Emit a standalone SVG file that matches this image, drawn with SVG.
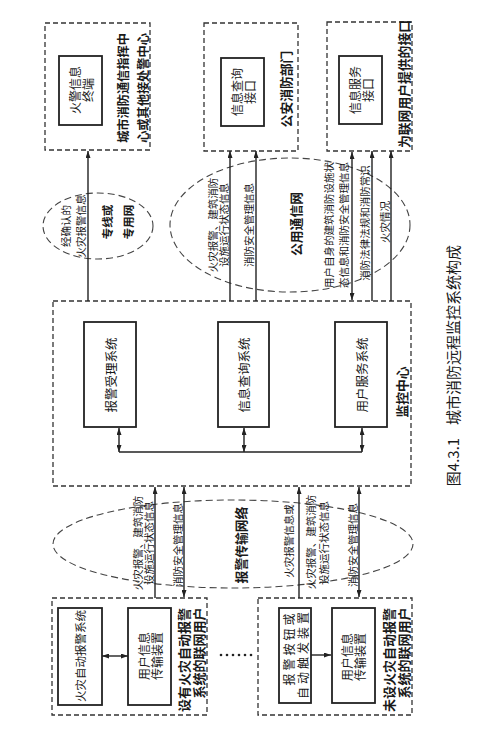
<svg xmlns="http://www.w3.org/2000/svg" width="483" height="740" viewBox="0 0 483 740">
<style>
.dbox{fill:none;stroke:#333;stroke-width:1.3;stroke-dasharray:5 3}
.sbox{fill:#fff;stroke:#222;stroke-width:1.8}
.ell{fill:none;stroke:#444;stroke-width:1.1;stroke-dasharray:7 4}
.ln{fill:none;stroke:#222;stroke-width:1.4}
.t{font-family:"Noto Sans CJK SC","Noto Sans",sans-serif;fill:#1a1a1a;text-anchor:middle;dominant-baseline:central}
.s{font-size:10.5px}
.m{font-size:12px}
.b{font-size:12.8px;font-weight:bold}
.c{font-size:15px}
</style>
<defs>
<marker id="ah" viewBox="0 0 7 5" refX="7" refY="2.5" markerWidth="7" markerHeight="5" markerUnits="userSpaceOnUse" orient="auto-start-reverse"><path d="M0,0 L7,2.5 L0,5 z" fill="#222"/></marker>
</defs>
<rect width="483" height="740" fill="#fff"/>

<g id="private-net">
<ellipse class="ell" cx="98" cy="226" rx="55" ry="33"/>
<text class="t b" style="font-size:11.5px" transform="translate(107 222) rotate(-90)">专线或</text>
<text class="t b" style="font-size:11.5px" transform="translate(128 222) rotate(-90)">专用网</text>
</g>

<g id="public-net">
<ellipse class="ell" cx="290" cy="225" rx="120" ry="67"/>
<text class="t b" transform="translate(295 224) rotate(-90)">公用通信网</text>
</g>

<g id="alarm-net">
<ellipse class="ell" cx="233" cy="544" rx="180" ry="44"/>
<text class="t b" transform="translate(240 545) rotate(-90)">报警传输网络</text>
</g>

<g id="fire-command">
<rect class="dbox" x="45" y="23" width="105" height="127"/>
<rect class="sbox" x="59" y="56" width="43" height="69"/>
<text class="t m" transform="translate(74 90) rotate(-90)">火警信息</text>
<text class="t m" transform="translate(87 90) rotate(-90)">终端</text>
<text class="t b" style="font-size:12.2px" transform="translate(123 88) rotate(-90)">城市消防通信指挥中</text>
<text class="t b" style="font-size:12.2px" transform="translate(143 88) rotate(-90)">心或其他接处警中心</text>
</g>

<g id="fire-dept">
<rect class="dbox" x="204" y="23" width="94" height="128"/>
<rect class="sbox" x="221" y="58" width="43" height="68"/>
<text class="t m" transform="translate(236 92) rotate(-90)">信息查询</text>
<text class="t m" transform="translate(249 92) rotate(-90)">接口</text>
<text class="t b" transform="translate(285 89) rotate(-90)">公安消防部门</text>
</g>

<g id="user-interface">
<rect class="dbox" x="327" y="22" width="85" height="129"/>
<rect class="sbox" x="339" y="56" width="43" height="68"/>
<text class="t m" transform="translate(354 90) rotate(-90)">信息服务</text>
<text class="t m" transform="translate(367 90) rotate(-90)">接口</text>
<text class="t b" transform="translate(403 84) rotate(-90)">为联网用户提供的接口</text>
</g>

<g id="monitor-center">
<rect class="dbox" x="53" y="301" width="358" height="185"/>
<rect class="sbox" x="84" y="322" width="52" height="105"/>
<text class="t m" style="font-size:12.5px" transform="translate(110 375) rotate(-90)">报警受理系统</text>
<rect class="sbox" x="218" y="322" width="51" height="105"/>
<text class="t m" style="font-size:12.5px" transform="translate(243.5 375) rotate(-90)">信息查询系统</text>
<rect class="sbox" x="335" y="322" width="52" height="105"/>
<text class="t m" style="font-size:12.5px" transform="translate(361 375) rotate(-90)">用户服务系统</text>
<text class="t b" transform="translate(401 392) rotate(-90)">监控中心</text>
</g>

<g id="user-auto">
<rect class="dbox" x="52" y="598" width="155" height="117"/>
<rect class="sbox" x="58" y="608" width="44" height="97"/>
<text class="t m" style="font-size:11.5px" transform="translate(80 656) rotate(-90)">火灾自动报警系统</text>
<rect class="sbox" x="128" y="608" width="43" height="97"/>
<text class="t m" transform="translate(143 656) rotate(-90)">用户信息</text>
<text class="t m" transform="translate(156 656) rotate(-90)">传输装置</text>
<text class="t b" style="font-size:13px" transform="translate(183 660) rotate(-90)">设有火灾自动报警</text>
<text class="t b" style="font-size:13px" transform="translate(198 653) rotate(-90)">系统的联网用户</text>
</g>

<g id="ellipsis" fill="#222">
<circle cx="221" cy="655" r="1.3"/><circle cx="227" cy="655" r="1.3"/><circle cx="233" cy="655" r="1.3"/>
<circle cx="239" cy="655" r="1.3"/><circle cx="245" cy="655" r="1.3"/><circle cx="251" cy="655" r="1.3"/>
</g>

<g id="user-noauto">
<rect class="dbox" x="258" y="598" width="154" height="117"/>
<rect class="sbox" x="279" y="608" width="32" height="95"/>
<text class="t m" style="letter-spacing:3px" transform="translate(288 648) rotate(-90)">报警按钮或</text>
<text class="t m" style="letter-spacing:3px" transform="translate(302 654) rotate(-90)">自动触发装置</text>
<rect class="sbox" x="332" y="608" width="43" height="95"/>
<text class="t m" transform="translate(346 657) rotate(-90)">用户信息</text>
<text class="t m" transform="translate(359 657) rotate(-90)">传输装置</text>
<text class="t b" style="font-size:13px" transform="translate(388 660) rotate(-90)">未设火灾自动报警</text>
<text class="t b" style="font-size:13px" transform="translate(403 653) rotate(-90)">系统的联网用户</text>
</g>

<g id="connectors">
<line class="ln" x1="88" y1="301" x2="88" y2="151" marker-end="url(#ah)"/>
<line class="ln" x1="230" y1="301" x2="230" y2="151" marker-end="url(#ah)"/>
<line class="ln" x1="256" y1="301" x2="256" y2="151" marker-end="url(#ah)"/>
<line class="ln" x1="352" y1="300" x2="352" y2="152" marker-start="url(#ah)" marker-end="url(#ah)"/>
<line class="ln" x1="372" y1="301" x2="372" y2="151" marker-end="url(#ah)"/>
<line class="ln" x1="391" y1="301" x2="391" y2="151" marker-end="url(#ah)"/>

<line class="ln" x1="119" y1="428" x2="119" y2="452" marker-start="url(#ah)" marker-end="url(#ah)"/>
<line class="ln" x1="244" y1="428" x2="244" y2="452" marker-start="url(#ah)" marker-end="url(#ah)"/>
<line class="ln" x1="362" y1="428" x2="362" y2="452" marker-start="url(#ah)" marker-end="url(#ah)"/>
<line class="ln" x1="119" y1="452" x2="362" y2="452"/>

<line class="ln" x1="155" y1="598" x2="155" y2="487" marker-end="url(#ah)"/>
<line class="ln" x1="184" y1="597" x2="184" y2="487" marker-start="url(#ah)" marker-end="url(#ah)"/>
<line class="ln" x1="299" y1="598" x2="299" y2="487" marker-end="url(#ah)"/>
<line class="ln" x1="359" y1="597" x2="359" y2="487" marker-start="url(#ah)" marker-end="url(#ah)"/>

<line class="ln" x1="102" y1="656" x2="128" y2="656" marker-start="url(#ah)" marker-end="url(#ah)"/>
<line class="ln" x1="311" y1="655" x2="331" y2="655" marker-end="url(#ah)"/>

<text class="t s" transform="translate(65 226) rotate(-90)">经确认的</text>
<text class="t s" transform="translate(80 226) rotate(-90)">火灾报警信息</text>
<text class="t s" transform="translate(212 225) rotate(-90)">火灾报警、建筑消防</text>
<text class="t s" transform="translate(223 225) rotate(-90)">设施运行状态信息</text>
<text class="t s" transform="translate(248 225) rotate(-90)">消防安全管理信息</text>
<text class="t s" transform="translate(328 225) rotate(-90)">用户自身的建筑消防设施状</text>
<text class="t s" transform="translate(343 225) rotate(-90)">态信息和消防安全管理信息</text>
<text class="t s" transform="translate(364 223) rotate(-90)">消防法律法规和消防常识</text>
<text class="t s" transform="translate(384 222) rotate(-90)">火灾情况</text>

<text class="t s" transform="translate(137 543) rotate(-90)">火灾报警、建筑消防</text>
<text class="t s" transform="translate(148 543) rotate(-90)">设施运行状态信息</text>
<text class="t s" transform="translate(177 545) rotate(-90)">消防安全管理信息</text>
<text class="t s" transform="translate(288 541) rotate(-90)">火灾报警信息或</text>
<text class="t s" transform="translate(310 542) rotate(-90)">火灾报警、建筑消防</text>
<text class="t s" transform="translate(323 543) rotate(-90)">设施运行状态信息</text>
<text class="t s" transform="translate(352 545) rotate(-90)">消防安全管理信息</text>
</g>

<g id="caption">
<text class="t c" transform="translate(452 462) rotate(-90)">图4.3.1</text>
<text class="t c" transform="translate(452 335) rotate(-90)">城市消防远程监控系统构成</text>
</g>
</svg>
